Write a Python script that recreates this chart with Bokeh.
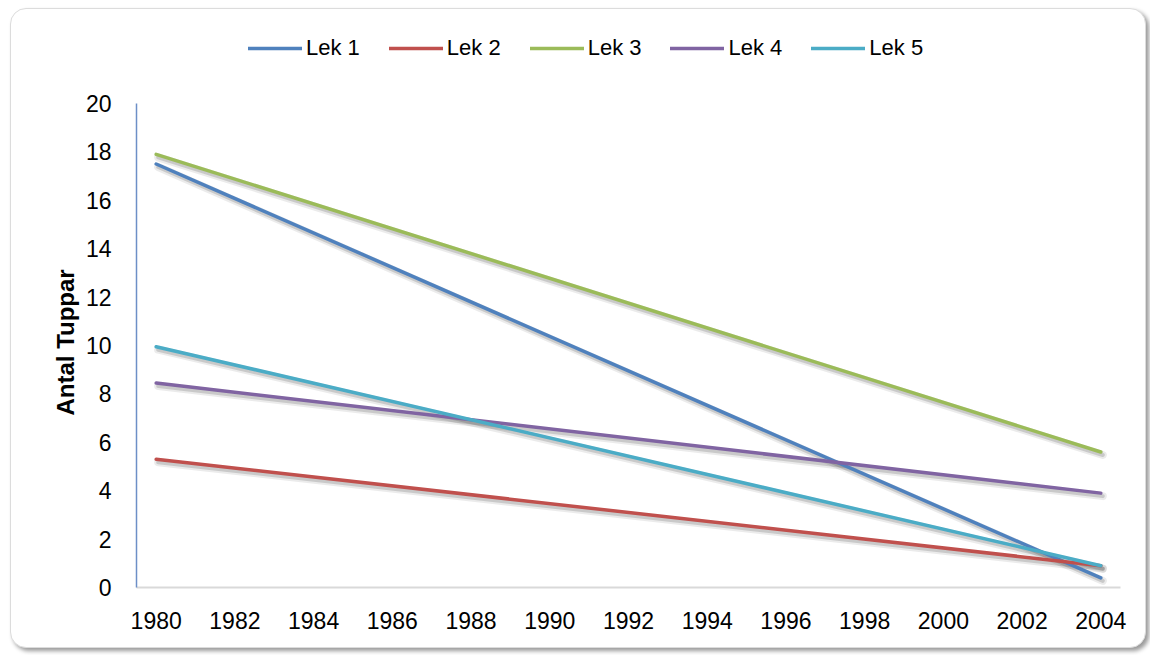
from bokeh.plotting import figure
from bokeh.models import Range1d, Legend, LegendItem, FixedTicker, Title
from bokeh.embed import file_html
from bokeh.resources import INLINE

years = [1980, 2004]
series_names = ["Lek 1", "Lek 2", "Lek 3", "Lek 4", "Lek 5"]
lek1 = [17.5, 0.4]
lek2 = [5.3, 0.9]
lek3 = [17.9, 5.6]
lek4 = [8.45, 3.9]
lek5 = [9.95, 0.9]
x_ticks = list(range(1980, 2005, 2))
y_ticks = list(range(0, 21, 2))
y_title = "Antal Tuppar"
colors = ["#4F81BD", "#C0504D", "#9BBB59", "#8064A2", "#4BACC6"]

FONT = "Liberation Sans"

# layout: the frame extends above the value axis to hold the legend
Y_MAX = 20
PX_PER_UNIT = 24.2          # pixels per y unit in the plotting area
EXTRA_TOP_PX = 83           # room above the axis top for the legend
y_end = Y_MAX + EXTRA_TOP_PX / PX_PER_UNIT

p = figure(width=1136, height=640, output_backend="svg", toolbar_location=None,
           x_range=Range1d(1979.5, 2004.5), y_range=Range1d(0, y_end),
           min_border_left=125, min_border_right=27, min_border_top=11, min_border_bottom=62)
p.styles = {"border": "1px solid #dcdcdc", "border-radius": "16px",
            "box-shadow": "3px 3px 4px #9a9a9a", "overflow": "hidden",
            "background-color": "white", "margin": "8px 0px 0px 10px"}
p.border_fill_color = None
p.background_fill_color = None
p.outline_line_color = None
p.grid.visible = False

# axes
p.xaxis.ticker = FixedTicker(ticks=x_ticks)
p.yaxis.ticker = FixedTicker(ticks=y_ticks)
p.yaxis.bounds = (0, Y_MAX)
for ax in (p.xaxis[0], p.yaxis[0]):
    ax.major_tick_line_color = None
    ax.minor_tick_line_color = None
    ax.major_label_text_font = FONT
    ax.major_label_text_font_size = "23px"
    ax.major_label_text_color = "#000000"
p.xaxis.axis_line_color = "#d9d9d9"
p.xaxis.axis_line_width = 2
p.xaxis.major_label_standoff = 18
p.yaxis.axis_line_color = "#6d8fc7"
p.yaxis.axis_line_width = 1.5
p.yaxis.major_label_standoff = 19

# y-axis title, centred on the value axis (not on the taller frame)
p.add_layout(Title(text=y_title, align="left", offset=172, text_font=FONT,
                   text_font_size="24px", text_font_style="bold",
                   text_color="#000000", standoff=8), "left")

all_series = [lek1, lek2, lek3, lek4, lek5]

# soft drop shadows (offset a few pixels down/right)
dx = 2.0 / 39.4
dy = 3.0 / PX_PER_UNIT
for vals in all_series:
    p.line([y + dx for y in years], [v - dy for v in vals], line_color="#000000",
           line_alpha=0.08, line_width=8, line_cap="round")
    p.line([y + dx for y in years], [v - dy for v in vals], line_color="#000000",
           line_alpha=0.14, line_width=4, line_cap="round")

items = []
for name, vals, c in zip(series_names, all_series, colors):
    r = p.line(years, vals, line_color=c, line_width=3.5, line_cap="round")
    items.append(LegendItem(label=name, renderers=[r]))

legend = Legend(items=items, orientation="horizontal", location=(112, 526),
                glyph_width=54, glyph_height=20, label_standoff=4, spacing=29,
                padding=0, margin=0, border_line_alpha=0, background_fill_alpha=0,
                label_text_font=FONT, label_text_font_size="22px",
                label_text_color="#000000")
p.add_layout(legend, "center")

open("out.html", "w").write(file_html(p, INLINE))
